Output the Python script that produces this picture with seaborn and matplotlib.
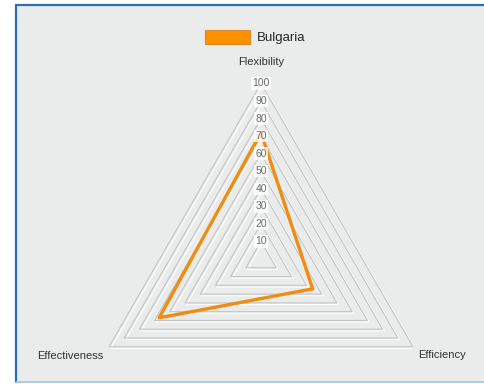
import numpy as np
import pandas as pd
import seaborn as sns
import matplotlib.pyplot as plt
import matplotlib.patheffects as pe
from matplotlib.patches import Patch, Rectangle
from matplotlib.lines import Line2D

# --- datos del gráfico ---
categories = ["Flexibility", "Efficiency", "Effectiveness"]
bulgaria = [72, 34, 67]
levels = [10, 20, 30, 40, 50, 60, 70, 80, 90, 100]
series_name = "Bulgaria"

sns.set_style("white")
plt.rcParams["font.family"] = ["Liberation Sans", "DejaVu Sans"]

W, H = 484, 384
fig = plt.figure(figsize=(W / 100, H / 100), dpi=100)
fig.patch.set_facecolor("white")

# marco del panel: fondo + bordes izquierdo, superior e inferior
x0, y0, y1 = 16 / W, 2 / H, 379 / H
fig.patches.append(Rectangle((x0, y0), 1 - x0, y1 - y0, transform=fig.transFigure,
                             facecolor="#e9eceb", edgecolor="none", zorder=-5))
fig.add_artist(Line2D([x0, x0], [y0, y1], color="#2e6cb4", lw=1.6, zorder=-4))
fig.add_artist(Line2D([x0, 1], [y1, y1], color="#2e6cb4", lw=1.6, zorder=-4))
fig.add_artist(Line2D([x0, 1], [y0, y0], color="#a7c2e2", lw=1.2, zorder=-4))

# centro (261, 259) px, radio 175.5 px
cx, cy, rad = 261, H - 259, 175.5
ax = fig.add_axes([(cx - rad) / W, (cy - rad) / H, 2 * rad / W, 2 * rad / H], projection="polar")
ax.set_facecolor("none")
ax.set_zorder(2)
ax.set_theta_offset(np.pi / 2)
ax.set_theta_direction(-1)
ax.set_ylim(0, 100)
ax.grid(False)
ax.spines["polar"].set_visible(False)
ax.set_xticks([])
ax.set_yticks([])

n = len(categories)
theta = np.linspace(0, 2 * np.pi, n, endpoint=False)
theta_closed = np.append(theta, theta[0])

# rejilla triangular (con sombra clara)
grid_fx = [pe.SimpleLineShadow(offset=(1.2, -1.2), shadow_color="white", alpha=0.9), pe.Normal()]
for lv in levels:
    ax.plot(theta_closed, [lv] * (n + 1), color="#c3c5c4", lw=0.8, zorder=1,
            path_effects=grid_fx)

# serie
df = pd.DataFrame({"theta": theta_closed, "value": bulgaria + bulgaria[:1]})
sns.lineplot(data=df, x="theta", y="value", sort=False, estimator=None,
             color="#f18c12", lw=2.4, ax=ax, zorder=3)
ax.set_xlabel("")
ax.set_ylabel("")

# etiquetas de la escala
for lv in levels:
    ax.text(0, lv, str(lv), ha="center", va="center", fontsize=7.5, color="#6e6e6e",
            bbox=dict(boxstyle="square,pad=0.12", fc="white", ec="none", alpha=0.8), zorder=4)

# etiquetas de los ejes
label_pos = [(0.0, 112), (np.deg2rad(118), 117), (np.deg2rad(243), 122)]
for name, (t, r) in zip(categories, label_pos):
    ax.text(t, r, name, ha="center", va="center", fontsize=8, color="#333333", clip_on=False)

# leyenda
handle = Patch(facecolor="#ff9100", edgecolor="#d98a2a", lw=0.8)
fig.legend([handle], [series_name], loc="center", bbox_to_anchor=(255 / W, 1 - 37 / H),
           frameon=False, fontsize=9.5, handlelength=3.4, handleheight=1.25, handletextpad=0.5)

fig.savefig("out.png", dpi=100)
